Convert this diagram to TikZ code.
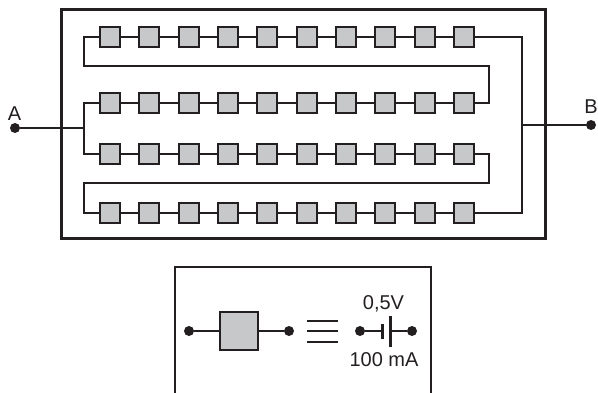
\documentclass[tikz,border=0pt]{standalone}
\usepackage{fontspec}
\setmainfont{Liberation Sans}
\definecolor{ink}{HTML}{231F20}
\definecolor{cellgray}{HTML}{C6C8CA}
\tikzset{
  cell/.style={draw=ink,fill=cellgray,line width=1.8pt,minimum size=20pt,inner sep=0pt,outer sep=0pt},
  bigcell/.style={cell,minimum size=38pt},
  wire/.style={draw=ink,line width=1.8pt},
  thinframe/.style={draw=ink,line width=1.3pt},
  thickframe/.style={draw=ink,line width=3pt,line join=miter},
  pin/.style={circle,fill=ink,inner sep=0pt,minimum size=10pt,outer sep=0pt},
  lbl/.style={text=ink,font=\fontsize{20}{22}\selectfont,inner sep=0pt},
}
\begin{document}
\begin{tikzpicture}[x=1pt,y=-1pt]
\useasboundingbox (0,0) rectangle (598,393);
\draw[thickframe] (61.5,10) rectangle (545,239);
% rows
\foreach \r/\y in {1/37,2/103,3/154,4/213}{
  \foreach \c/\x in {1/110,2/149,3/189,4/228,5/267,6/307,7/346,8/385,9/425,10/464}{
    \node[cell] (s\r-\c) at (\x,\y) {};
  }
  \foreach \c [evaluate=\c as \n using int(\c+1)] in {1,...,9}{
    \draw[wire] (s\r-\c) -- (s\r-\n);
  }
}
% terminals
\node[pin] (A) at (15,128) {};
\node[pin] (B) at (591,125) {};
\node[lbl] (la) at (14.5,114) {A};
\node[lbl] (lb) at (591,107) {B};
\coordinate (ja) at (84,128);
\coordinate (jb) at (522,125);
% wiring
\draw[wire] (s1-1.west) -- (84,37) -- (84,66) -- (489,66) -- (489,103) -- (s2-10.east);
\draw[wire] (s3-10.east) -- (489,154) -- (489,183) -- (84,183) -- (84,213) -- (s4-1.west);
\draw[wire] (s2-1.west) -- (84,103) -- (84,154) -- (s3-1.west);
\draw[wire] (s1-10.east) -- (522,37) -- (522,213) -- (s4-10.east);
\draw[wire] (A) -- (ja);
\draw[wire] (jb) -- (B);
% legend
\draw[thinframe] (175,393) -- (175,267) -- (431,267) -- (431,393);
\node[bigcell] (big) at (239,331) {};
\node[pin] (p1) at (189,331) {};
\node[pin] (p2) at (289,331) {};
\draw[wire] (p1) -- (big);
\draw[wire] (big) -- (p2);
\coordinate (e1l) at (307,321); \coordinate (e1r) at (338,321);
\coordinate (e2l) at (307,331); \coordinate (e2r) at (338,331);
\coordinate (e3l) at (307,342); \coordinate (e3r) at (338,342);
\draw[wire] (e1l) -- (e1r);
\draw[wire] (e2l) -- (e2r);
\draw[wire] (e3l) -- (e3r);
\node[pin] (p3) at (360,331) {};
\node[pin] (p4) at (412,331) {};
\coordinate (neg) at (382,331);
\coordinate (pos) at (390,331);
\draw[wire] (p3) -- (neg);
\draw[wire] (pos) -- (p4);
\draw[draw=ink,line width=3pt] (382,324) -- (382,339);
\draw[draw=ink,line width=3pt] (390,316) -- (390,347);
\node[lbl] (v) at (383.5,304) {0,5V};
\node[lbl] (i) at (384,360) {100 mA};
\end{tikzpicture}
\end{document}
